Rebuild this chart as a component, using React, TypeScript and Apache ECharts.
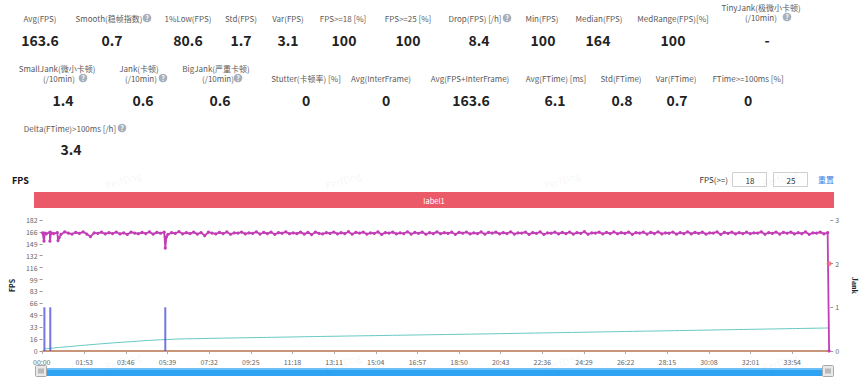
import React, { useEffect, useRef } from "react";
import * as echarts from "echarts";

// ---------- data ----------
const statRow1Labels = [["Avg(FPS)"], ["Smooth(稳帧指数)"], ["1%Low(FPS)"], ["Std(FPS)"], ["Var(FPS)"], ["FPS>=18 [%]"], ["FPS>=25 [%]"], ["Drop(FPS) [/h]"], ["Min(FPS)"], ["Median(FPS)"], ["MedRange(FPS)[%]"], ["TinyJank(极微小卡顿)", "(/10min)"]];
const statRow1Values = ["163.6", "0.7", "80.6", "1.7", "3.1", "100", "100", "8.4", "100", "164", "100", "-"];
const statRow2Labels = [["SmallJank(微小卡顿)", "(/10min)"], ["Jank(卡顿)", "(/10min)"], ["BigJank(严重卡顿)", "(/10min)"], ["Stutter(卡顿率) [%]"], ["Avg(InterFrame)"], ["Avg(FPS+InterFrame)"], ["Avg(FTime) [ms]"], ["Std(FTime)"], ["Var(FTime)"], ["FTime>=100ms [%]"]];
const statRow2Values = ["1.4", "0.6", "0.6", "0", "0", "163.6", "6.1", "0.8", "0.7", "0"];
const statRow3Labels = [["Delta(FTime)>100ms [/h]"]];
const statRow3Values = ["3.4"];

const xTickLabels = ["00:00", "01:53", "03:46", "05:39", "07:32", "09:25", "11:18", "13:11", "15:04", "16:57", "18:50", "20:43", "22:36", "24:29", "26:22", "28:15", "30:08", "32:01", "33:54"];
const yTickLabels = ["0", "16", "33", "49", "66", "83", "99", "116", "132", "149", "166", "182"];
const jankTickLabels = ["0", "1", "2", "3"];

// FPS sampled every 10 s
const fpsValues = [
  164.2, 162.8, 165.1, 163.0, 164.6, 162.1, 165.4, 163.7, 162.5, 164.9, 163.3, 165.6, 162.4, 158.9, 164.1, 163.5, 165.0, 162.7, 164.4, 163.1,
  165.3, 162.6, 164.0, 161.9, 165.2, 163.8, 162.9, 164.7, 163.2, 165.5, 162.3, 164.8, 163.6, 165.1, 162.0, 164.3, 163.4, 165.7, 162.8, 164.5,
  163.0, 165.2, 162.4, 164.6, 160.2, 165.0, 163.7, 162.6, 164.9, 163.1, 165.4, 162.2, 164.2, 163.8, 165.3, 162.7, 164.0, 163.3, 165.6, 162.5,
  164.7, 163.2, 165.1, 162.1, 164.4, 163.6, 165.5, 162.9, 164.1, 163.0, 165.2, 162.4, 164.8, 161.8, 165.0, 163.5, 162.6, 164.6, 163.4, 165.3,
  162.8, 164.3, 163.1, 165.7, 162.3, 164.9, 163.7, 165.0, 162.5, 164.2, 163.3, 165.4, 162.0, 164.5, 163.8, 165.1, 162.7, 164.0, 163.2, 165.6,
  162.4, 164.7, 163.5, 165.2, 162.2, 164.3, 163.0, 165.5, 162.9, 164.6, 163.4, 165.0, 162.1, 164.8, 163.6, 165.3, 162.6, 164.1, 163.1, 165.4,
  162.3, 164.9, 163.7, 165.1, 162.8, 164.4, 163.2, 165.6, 162.5, 164.0, 163.9, 165.2, 162.0, 164.6, 163.3, 165.5, 161.9, 164.2, 163.6, 165.0,
  162.7, 164.8, 163.0, 165.3, 162.4, 164.5, 163.5, 165.7, 162.2, 164.1, 163.8, 165.1, 162.6, 164.7, 163.1, 165.4, 162.9, 164.3, 163.4, 165.2,
  162.1, 164.6, 163.7, 165.0, 162.5, 164.9, 163.2, 165.5, 162.8, 164.0, 163.6, 165.3, 162.3, 164.4, 163.0, 165.6, 162.7, 164.8, 163.5, 165.1,
  162.4, 164.2, 163.9, 165.4, 162.0, 164.7, 163.3, 165.2, 162.6, 164.5, 163.1, 165.0, 162.9, 164.1, 163.8, 165.6, 162.2, 164.6, 163.4, 165.3,
  162.5, 164.9, 163.6, 165.1, 162.7, 164.3, 163.0, 165.5, 162.1, 164.0, 163.7, 165.2, 162.8, 164.4,
];
const fpsStep = 10;
const fpsDips: [number, number][] = [[4, 152.5], [6, 163.8], [20, 152.5], [23, 164.2], [42, 153.5], [45, 157.5], [333, 143], [336, 158.5], [2134, 0]];

const interFrameTimes = [0, 2134];
const interFrameValues = [0, 0];

const tealTimes = [5, 113, 226, 339, 452, 565, 678, 791, 904, 1017, 1130, 1243, 1356, 1469, 1582, 1695, 1808, 1921, 2034, 2134];
const tealValues = [3, 8, 12.5, 16, 17.5, 18.5, 19.5, 20.5, 21.4, 22.3, 23.2, 24.1, 25.1, 26.1, 27.1, 28.1, 29.1, 30.1, 31.1, 32];

const jankTimes = [5, 21, 333];
const jankValues = [1, 1, 1];

const bigJankTimes = [2134];
const bigJankValues = [2];

const X_MAX = 2137;
const X_STEP = 113;
const Y_MAX = 182;

// ---------- layout ----------
const row1X = [40, 109, 188, 241, 288, 343, 408, 475, 542, 599, 673, 761];
const row1Help = [null, 147, null, null, null, null, null, 507, null, null, null, 787];
const row1ValX = [40, 112, 188, 241, 288, 344, 408, 479, 543, 598, 673, 767];
const row2X = [57, 139, 216, 306, 381, 470, 556, 621, 676, 748];
const row2Help = [83, 163, 238, null, null, null, null, null, null, null];
const row2ValX = [63, 143, 220, 306, 386, 471, 555, 622, 677, 748];

const FONT = "'Noto Sans CJK SC', 'Noto Sans', sans-serif";

function txt(text: string, x: number, y: number, size: number, opts: any = {}) {
  return {
    type: "text",
    x,
    y,
    silent: true,
    z: 10,
    style: {
      text,
      fontSize: size,
      fontFamily: FONT,
      fontWeight: opts.bold ? "bold" : "normal",
      fill: opts.fill || "#5a5a5a",
      align: opts.align || "center",
      verticalAlign: "middle",
    },
  };
}

function help(x: number, y: number) {
  return {
    type: "group",
    x,
    y,
    silent: true,
    children: [
      { type: "circle", shape: { cx: 0, cy: 0, r: 4.3 }, style: { fill: "#a7afbb" } },
      { type: "text", x: 0, y: 0.3, style: { text: "?", fontSize: 7, fontWeight: "bold", fontFamily: FONT, fill: "#fff", align: "center", verticalAlign: "middle" } },
    ],
  };
}

function buildStats() {
  const g: any[] = [];
  statRow1Labels.forEach((lines, i) => {
    if (lines.length === 2) {
      g.push(txt(lines[0], row1X[i], 7, 8));
      g.push(txt(lines[1], row1X[i], 17, 8));
      if (row1Help[i] != null) g.push(help(row1Help[i] as number, 17));
    } else {
      g.push(txt(lines[0], row1X[i], 18, 8));
      if (row1Help[i] != null) g.push(help(row1Help[i] as number, 18));
    }
    g.push(txt(statRow1Values[i], row1ValX[i], 40, 14, { bold: true, fill: "#222" }));
  });
  statRow2Labels.forEach((lines, i) => {
    if (lines.length === 2) {
      g.push(txt(lines[0], row2X[i], 68, 8));
      g.push(txt(lines[1], row2X[i] + 2, 78, 8));
      if (row2Help[i] != null) g.push(help(row2Help[i] as number, 78));
    } else {
      g.push(txt(lines[0], row2X[i], 78, 8));
    }
    g.push(txt(statRow2Values[i], row2ValX[i], 100, 14, { bold: true, fill: "#222" }));
  });
  g.push(txt(statRow3Labels[0][0], 70, 128, 8));
  g.push(help(122, 128));
  g.push(txt(statRow3Values[0], 71, 149, 14, { bold: true, fill: "#222" }));
  return g;
}

function buildChrome() {
  const g: any[] = [];
  // watermarks
  const wm = [[123, 180], [343, 180], [562, 180], [780, 178], [123, 361], [343, 362], [562, 362], [780, 362]];
  wm.forEach(([x, y]) =>
    g.push({ type: "text", x, y, rotation: 0.3, silent: true, z: 1, style: { text: "PerfDog", fontSize: 10, fontFamily: FONT, fill: "rgba(0,0,0,0.06)", align: "center", verticalAlign: "middle" } })
  );
  g.push(txt("FPS", 12, 180, 9, { bold: true, fill: "#111", align: "left" }));
  g.push(txt("FPS(>=)", 728, 179, 8, { fill: "#333", align: "right" }));
  g.push({ type: "rect", shape: { x: 732.5, y: 172.5, width: 34, height: 14 }, style: { fill: "#fff", stroke: "#cfcfcf", lineWidth: 1 } });
  g.push(txt("18", 750, 180, 8, { fill: "#333" }));
  g.push({ type: "rect", shape: { x: 773.5, y: 172.5, width: 34, height: 14 }, style: { fill: "#fff", stroke: "#cfcfcf", lineWidth: 1 } });
  g.push(txt("25", 791, 180, 8, { fill: "#333" }));
  g.push(txt("重置", 826, 179, 8, { fill: "#3d7de6" }));
  // first x tick label, left-aligned at the axis start
  g.push(txt(xTickLabels[0], 33, 362, 7, { fill: "#666", align: "left" }));
  // label bar
  g.push({ type: "rect", shape: { x: 34, y: 192, width: 800, height: 16 }, style: { fill: "#ea5a69" } });
  g.push(txt("label1", 434, 200, 7.5, { fill: "#fff" }));
  // slider
  g.push({ type: "rect", shape: { x: 36, y: 368, width: 796, height: 8 }, style: { fill: "#2ea2f3" } });
  g.push({ type: "rect", shape: { x: 36, y: 368, width: 796, height: 2 }, style: { fill: "#6cc0f7" } });
  [35, 822].forEach((hx) => {
    g.push({ type: "rect", shape: { x: hx + 0.5, y: 365.5, width: 11, height: 11, r: 1 }, style: { fill: "#e9e9e9", stroke: "#a9a9a9", lineWidth: 1 } });
    [4, 6, 8].forEach((d) => g.push({ type: "line", shape: { x1: hx + d, y1: 368.5, x2: hx + d, y2: 373.5 }, style: { stroke: "#8a8a8a", lineWidth: 1 } }));
  });
  return g;
}

export default function App() {
  const ref = useRef<HTMLDivElement>(null);
  useEffect(() => {
    if (!ref.current) return;
    const chart = echarts.init(ref.current, null, { renderer: "svg" });

    const fpsData: [number, number][] = fpsValues.map((v, i) => [i * fpsStep, v] as [number, number]);
    fpsDips.forEach((p) => fpsData.push(p));
    fpsData.sort((a, b) => a[0] - b[0]);

    const yStep = Y_MAX / 11;

    chart.setOption({
      animation: false,
      backgroundColor: "#fff",
      textStyle: { fontFamily: FONT },
      grid: { left: 34, right: 32, top: 220, bottom: 29, containLabel: false },
      xAxis: {
        type: "value",
        min: 0,
        max: X_MAX,
        interval: X_STEP,
        splitLine: { show: false },
        axisLine: { show: true, lineStyle: { color: "#ccc" } },
        axisTick: { show: true, length: 3, lineStyle: { color: "#aaa" } },
        axisLabel: {
          fontSize: 7,
          color: "#666",
          margin: 7,
          showMaxLabel: false,
          formatter: (v: number) => {
            const k = Math.round(v / X_STEP);
            if (k === 0) return "";
            return Math.abs(v - k * X_STEP) < 0.01 && xTickLabels[k] ? xTickLabels[k] : "";
          },
        },
      },
      yAxis: [
        {
          type: "value",
          min: 0,
          max: Y_MAX,
          interval: yStep,
          name: "FPS",
          nameLocation: "middle",
          nameGap: 22,
          nameRotate: 90,
          nameTextStyle: { fontSize: 7, fontWeight: "bold", color: "#222" },
          splitLine: { show: false },
          axisLine: { show: false },
          axisTick: { show: true, length: 3, lineStyle: { color: "#999" } },
          axisLabel: {
            fontSize: 7,
            color: "#666",
            margin: 5,
            formatter: (v: number) => yTickLabels[Math.round(v / yStep)] ?? "",
          },
        },
        {
          type: "value",
          min: 0,
          max: 3,
          interval: 1,
          position: "right",
          name: "Jank",
          nameLocation: "middle",
          nameGap: 14,
          nameRotate: -90,
          nameTextStyle: { fontSize: 8, fontWeight: "bold", color: "#222", fontFamily: "'Liberation Serif', serif" },
          splitLine: { show: false },
          axisLine: { show: false },
          axisTick: { show: true, length: 3, lineStyle: { color: "#999" } },
          axisLabel: { fontSize: 7, color: "#666", margin: 5, formatter: (v: number) => jankTickLabels[Math.round(v)] ?? "" },
        },
      ],
      series: [
        {
          name: "InterFrame",
          type: "line",
          yAxisIndex: 0,
          data: interFrameTimes.map((t, i) => [t, interFrameValues[i]]),
          symbol: "none",
          lineStyle: { color: "#c9967a", width: 2 },
          z: 2,
        },
        {
          name: "Teal",
          type: "line",
          yAxisIndex: 0,
          data: tealTimes.map((t, i) => [t, tealValues[i]]),
          symbol: "none",
          smooth: true,
          lineStyle: { color: "#66c8c2", width: 1 },
          z: 2,
        },
        {
          name: "FPS",
          type: "line",
          yAxisIndex: 0,
          data: fpsData,
          symbol: "circle",
          symbolSize: 3.2,
          showSymbol: true,
          itemStyle: { color: "#c23db6" },
          lineStyle: { color: "#c23db6", width: 1.8 },
          z: 4,
        },
        {
          name: "Jank",
          type: "bar",
          yAxisIndex: 1,
          barWidth: 2,
          data: jankTimes.map((t, i) => [t, jankValues[i]]),
          itemStyle: { color: "rgba(82,84,214,0.8)" },
          z: 3,
        },
        {
          name: "BigJank",
          type: "scatter",
          yAxisIndex: 1,
          data: bigJankTimes.map((t, i) => [t, bigJankValues[i]]),
          symbolSize: 5,
          itemStyle: { color: "#ee6a78" },
          z: 5,
        },
      ],
      graphic: [...buildStats(), ...buildChrome()],
    });
    return () => chart.dispose();
  }, []);
  return <div ref={ref} style={{ position: "fixed", left: 0, top: 0, width: 866, height: 380, background: "#fff" }} />;
}
